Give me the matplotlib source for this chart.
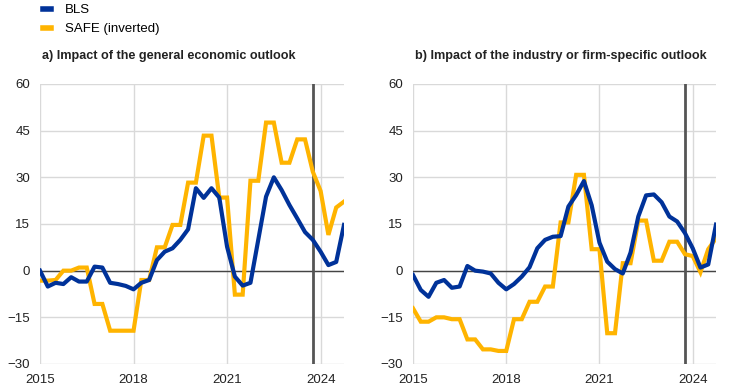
import numpy as np
import matplotlib
matplotlib.use("Agg")
import matplotlib.pyplot as plt
from matplotlib.lines import Line2D

plt.rcParams['font.family'] = ['Liberation Sans', 'DejaVu Sans']

# quarterly, 2015 Q1 - 2024 Q4
quarters = 2015 + np.arange(40) / 4

bls_general = [0, -5.1, -3.9, -4.3, -2.1, -3.5, -3.5, 1.3, 1.0, -3.9,
               -4.3, -4.9, -6.0, -3.9, -3.0, 3.4, 6.1, 7.2, 9.9, 13.3,
               26.5, 23.4, 26.5, 23.5, 7.7, -1.9, -4.8, -3.9, 9.9, 23.8,
               30.0, 25.9, 21.1, 16.8, 12.4, 9.9, 6.1, 1.8, 2.8, 14.7]
safe_general = [-3.2, -3.2, -3.0, 0, 0, 1.0, 1.0, -10.7, -10.7, -19.3,
                -19.3, -19.3, -19.3, -3.0, -3.0, 7.5, 7.5, 14.7, 14.7, 28.3,
                28.3, 43.4, 43.4, 23.5, 23.5, -7.7, -7.7, 28.9, 28.9, 47.6,
                47.6, 34.7, 34.7, 42.2, 42.2, 31.8, 25.6, 11.5, 20.3, 22.2]

bls_firm = [-1.4, -6.2, -8.4, -3.9, -3.0, -5.5, -5.1, 1.5, 0, -0.3,
            -0.9, -3.9, -6.0, -4.3, -1.9, 1.1, 7.2, 9.9, 10.9, 11.1,
            20.6, 24.3, 28.8, 21.0, 9.0, 2.9, 0.5, -0.9, 5.8, 17.4,
            24.2, 24.5, 22.0, 17.4, 15.8, 12.1, 7.2, 1.0, 2.0, 14.8]
safe_firm = [-12.1, -16.4, -16.4, -15.0, -15.0, -15.6, -15.6, -22.1, -22.1, -25.3,
             -25.3, -25.8, -25.8, -15.6, -15.6, -10.0, -10.0, -5.1, -5.1, 15.5,
             15.5, 30.8, 30.8, 6.9, 6.9, -20.1, -20.1, 2.4, 2.4, 16.1,
             16.1, 3.2, 3.2, 9.3, 9.3, 5.3, 4.7, -0.5, 6.9, 10.4]

titles = ["a) Impact of the general economic outlook",
          "b) Impact of the industry or firm-specific outlook"]
blue = "#003299"
yellow = "#ffb400"

fig = plt.figure(figsize=(7.43, 3.90), dpi=100)
axes = [fig.add_axes([40/743, 26/390, 304/743, 280/390]),
        fig.add_axes([413/743, 26/390, 303/743, 280/390])]

for ax, bls, safe, title in zip(axes, [bls_general, bls_firm],
                                [safe_general, safe_firm], titles):
    ax.set_xlim(2015, 2024.75)
    ax.set_ylim(-30, 60)
    ax.set_yticks(range(-30, 61, 15))
    ax.set_xticks([2015, 2018, 2021, 2024])
    ax.grid(True, color="#d9d9d9", lw=1)
    ax.set_axisbelow(True)
    for s in ax.spines.values():
        s.set_visible(False)
    ax.tick_params(length=0, labelsize=9.5, colors="#222222", pad=7)
    ax.tick_params(axis="x", pad=7)
    ax.axhline(0, color="#444444", lw=1, zorder=1)
    ax.axvline(2023.75, color="#555555", lw=2, zorder=1)
    ax.plot(quarters, safe, color=yellow, lw=3, solid_joinstyle="miter", zorder=3)
    ax.plot(quarters, bls, color=blue, lw=3, zorder=4)
    ax.text(0.005, 1.1, title, transform=ax.transAxes, fontsize=9.1,
            fontweight="bold", ha="left", va="center", color="#222222")

handles = [Line2D([], [], color=blue, lw=4),
           Line2D([], [], color=yellow, lw=4)]
fig.legend(handles, ["BLS", "SAFE (inverted)"], loc="upper left",
           bbox_to_anchor=(31/743, 1.02), frameon=False, fontsize=9.5,
           handlelength=0.6, handletextpad=1.1, labelspacing=0.5)

fig.savefig("out.png", dpi=100)
